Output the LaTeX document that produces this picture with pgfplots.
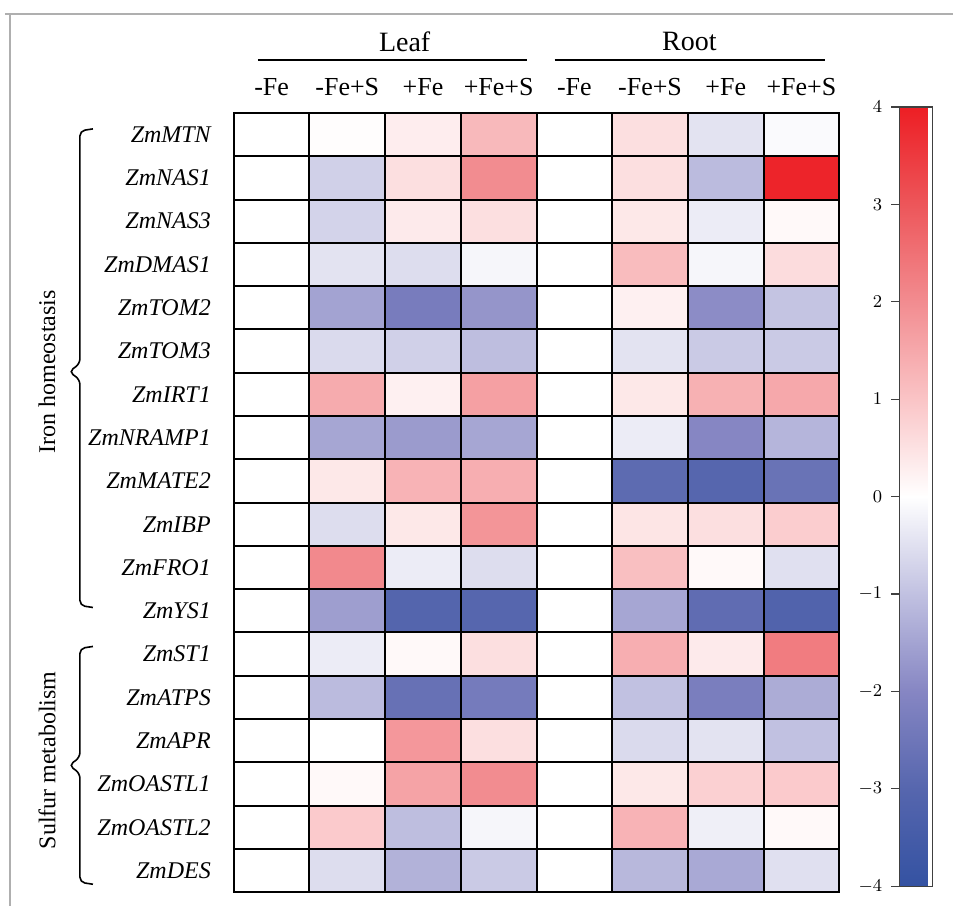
\documentclass[border=0pt]{standalone}
\usepackage{pgfplots}
\pgfplotsset{compat=1.18}
\usepackage{fontspec}
\setmainfont{Liberation Serif}
\begin{document}
\begin{tikzpicture}
\begin{scope}[x=0.5pt,y=-0.5pt]
\path (0,0) rectangle (954,907);
\draw[color={rgb,255:red,175;green,175;blue,175}, line width=0.8pt] (5,14) -- (954,14);
\draw[color={rgb,255:red,175;green,175;blue,175}, line width=0.8pt] (10,14) -- (10,907);
\end{scope}
\begin{axis}[
  at={(117pt,-56.5pt)}, anchor=north west,
  scale only axis, width=303pt, height=390pt,
  xmin=-0.5, xmax=7.5, ymin=-0.5, ymax=17.5,
  y dir=reverse, enlargelimits=false,
  axis on top,
  axis line style={black, line width=1pt},
  colormap={bwr}{rgb255=(52,82,162) rgb255=(86,102,174) rgb255=(134,134,195) rgb255=(193,193,225) rgb255=(255,255,255) rgb255=(250,196,198) rgb255=(242,140,144) rgb255=(237,86,90) rgb255=(237,30,36)},
  point meta min=-4, point meta max=4,
  xtick={0,...,7},
  xticklabels={-Fe,-Fe+S,+Fe,+Fe+S,-Fe,-Fe+S,+Fe,+Fe+S},
  xticklabel pos=right,
  xticklabel style={font=\fontsize{13}{15}\selectfont, yshift=5pt},
  ytick={0,...,17},
  yticklabels={ZmMTN,ZmNAS1,ZmNAS3,ZmDMAS1,ZmTOM2,ZmTOM3,ZmIRT1,ZmNRAMP1,ZmMATE2,ZmIBP,ZmFRO1,ZmYS1,ZmST1,ZmATPS,ZmAPR,ZmOASTL1,ZmOASTL2,ZmDES},
  yticklabel style={font=\fontsize{12}{14}\selectfont\itshape, xshift=-8pt},
  major tick length=0pt, minor tick length=0pt,
  minor xtick={0.5,1.5,...,6.5},
  minor ytick={0.5,1.5,...,16.5},
  xminorgrids, yminorgrids,
  minor grid style={black, line width=1pt},
  colorbar,
  colorbar shift/.style={xshift=30pt, yshift=3pt},
  colorbar style={
    at={(parent axis.north east)}, anchor=north west,
    scale only axis, width=16.5pt, height=390pt,
    ytick={-4,-3,...,4},
    yticklabel pos=left,
    ytick pos=left,
    tick align=outside,
    major tick length=4pt,
    tick style={black!75, line width=0.6pt},
    axis line style={black!75, line width=0.6pt},
    yticklabel style={font=\fontsize{9.5}{11}\selectfont, text=black, xshift=-1pt},
  },
]
\addplot[matrix plot*, mesh/cols=8, point meta=explicit] table[meta=c] {
x y c
0 0 0
1 0 0.03
2 0 0.3
3 0 1.2
4 0 0
5 0 0.55
6 0 -0.45
7 0 -0.08
0 1 0
1 1 -0.75
2 1 0.55
3 1 2.0
4 1 0
5 1 0.55
6 1 -1.1
7 1 3.9
0 2 0
1 2 -0.7
2 2 0.35
3 2 0.55
4 2 0
5 2 0.4
6 2 -0.3
7 2 0.1
0 3 0
1 3 -0.45
2 3 -0.55
3 3 -0.15
4 3 0
5 3 1.15
6 3 -0.15
7 3 0.6
0 4 0
1 4 -1.5
2 4 -2.3
3 4 -1.75
4 4 0
5 4 0.25
6 4 -1.9
7 4 -0.95
0 5 0
1 5 -0.6
2 5 -0.75
3 5 -1.05
4 5 0
5 5 -0.45
6 5 -0.85
7 5 -0.85
0 6 0
1 6 1.45
2 6 0.25
3 6 1.65
4 6 0
5 6 0.4
6 6 1.35
7 6 1.5
0 7 0
1 7 -1.45
2 7 -1.65
3 7 -1.45
4 7 0
5 7 -0.3
6 7 -2.0
7 7 -1.2
0 8 0
1 8 0.4
2 8 1.3
3 8 1.4
4 8 0
5 8 -2.85
6 8 -3.0
7 8 -2.6
0 9 0
1 9 -0.55
2 9 0.4
3 9 1.85
4 9 0
5 9 0.45
6 9 0.55
7 9 0.85
0 10 0
1 10 2.05
2 10 -0.3
3 10 -0.55
4 10 0
5 10 1.1
6 10 0.1
7 10 -0.5
0 11 0
1 11 -1.6
2 11 -3.05
3 11 -3.0
4 11 0
5 11 -1.45
6 11 -2.8
7 11 -3.15
0 12 0
1 12 -0.3
2 12 0.1
3 12 0.55
4 12 0
5 12 1.4
6 12 0.35
7 12 2.3
0 13 0
1 13 -1.1
2 13 -2.65
3 13 -2.35
4 13 0
5 13 -1.0
6 13 -2.25
7 13 -1.35
0 14 0
1 14 0.0
2 14 1.8
3 14 0.55
4 14 0
5 14 -0.6
6 14 -0.45
7 14 -1.0
0 15 0
1 15 0.1
2 15 1.6
3 15 2.0
4 15 0
5 15 0.4
6 15 0.8
7 15 0.9
0 16 0
1 16 0.9
2 16 -1.05
3 16 -0.15
4 16 0
5 16 1.3
6 16 -0.25
7 16 0.1
0 17 0
1 17 -0.55
2 17 -1.25
3 17 -0.85
4 17 0
5 17 -1.15
6 17 -1.4
7 17 -0.5
};
\end{axis}
\begin{scope}[x=0.5pt,y=-0.5pt]
\node[font=\fontsize{14}{16}\selectfont] at (405,42) {Leaf};
\node[font=\fontsize{14}{16}\selectfont] at (690,42) {Root};
\draw[line width=0.8pt] (258,60) -- (527,60);
\draw[line width=0.8pt] (555,60) -- (826,60);
\draw[line width=0.8pt, rounded corners=2.5pt] (93,129) -- (80,131) -- (80,364) -- (69,372) -- (80,380) -- (80,606) -- (93,608);
\draw[line width=0.8pt, rounded corners=2.5pt] (93,647) -- (80,649) -- (80,758) -- (69,766) -- (80,774) -- (80,883) -- (93,885);
\node[rotate=90, font=\fontsize{12}{14}\selectfont] at (47,372) {Iron homeostasis};
\node[rotate=90, font=\fontsize{12}{14}\selectfont] at (47,761) {Sulfur metabolism};
\end{scope}
\end{tikzpicture}
\end{document}
